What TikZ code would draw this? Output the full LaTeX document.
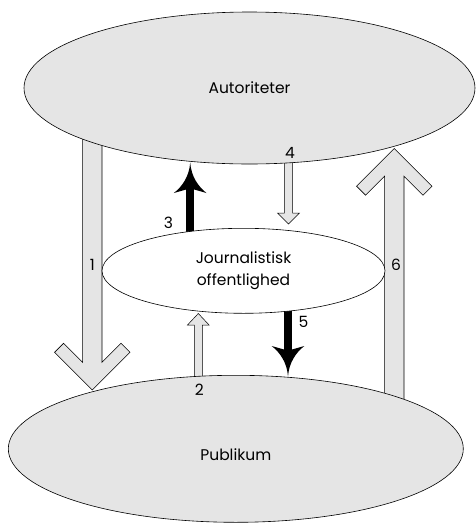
\documentclass[tikz,border=0pt]{standalone}
\usepackage{fontspec}
\setmainfont{Poppins}
\usetikzlibrary{shapes.geometric}
\definecolor{blobgray}{gray}{0.9}
\tikzset{
  sharphead/.pic={\fill (0,0) .. controls (1,14) and (8,24) .. (16.3,30.5) -- (4,27) -- (-4,27) -- (-16.3,30.5) .. controls (-8,24) and (-1,14) .. (0,0) -- cycle;}
}
\begin{document}
\begin{tikzpicture}[x=1pt,y=-1pt,
  grayblob/.style={ellipse, draw, line width=.6pt, fill=blobgray, inner sep=0pt, font=\fontsize{15.5}{21.7}\selectfont},
  whiteblob/.style={grayblob, fill=white, align=center},
  widearrow/.style={draw, line width=.6pt, fill=blobgray, line join=miter},
  thinarrow/.style={draw, line width=.5pt, fill=blobgray},
  blackshaft/.style={line width=8pt},
  numlabel/.style={inner sep=0pt, font=\fontsize{15.5}{18}\selectfont}]
\useasboundingbox (0,0) rectangle (475,523);

\coordinate (t1) at (92.3,390);
\coordinate (t6) at (394.3,148.5);
\coordinate (t4) at (288.5,224);
\coordinate (t2) at (198.3,313.5);
\coordinate (s3) at (190.2,236);
\coordinate (b3) at (190.2,188);
\coordinate (t3) at (190.2,162.5);
\coordinate (s5) at (288,305);
\coordinate (b5) at (288,350);
\coordinate (t5) at (288,376.5);

% wide arrows, tails tucked under the ellipses
\draw[widearrow] (t1) -- ++(-37.7,-37.7) -- ++(9,-9) -- ++(19,19) -- ++(0,-232.3) -- ++(19.4,0) -- ++(0,232.3) -- ++(19,-19) -- ++(9,9) -- cycle;
\draw[widearrow] (t6) -- ++(-37.7,37.7) -- ++(9,9) -- ++(19,-19) -- ++(0,228.8) -- ++(19.4,0) -- ++(0,-228.8) -- ++(19,19) -- ++(9,-9) -- cycle;

% thin arrows
\draw[thinarrow] (t4) -- ++(-11,-11) -- ++(6.8,0) -- ++(0,-55) -- ++(8.4,0) -- ++(0,55) -- ++(6.8,0) -- cycle;
\draw[thinarrow] (t2) -- ++(-10.8,11.5) -- ++(6.8,0) -- ++(0,57) -- ++(8,0) -- ++(0,-57) -- ++(6.8,0) -- cycle;

% black arrows
\draw[blackshaft] (s3) -- (b3);
\pic at (t3) {sharphead};
\draw[blackshaft] (s5) -- (b5);
\pic[rotate=180] at (t5) {sharphead};

\node[grayblob, minimum width=451pt, minimum height=152pt] (aut) at (249.5,88) {Autoriteter};
\node[whiteblob, minimum width=283pt, minimum height=85pt] (jo) at (243.5,270.8) {Journalistisk\\offentlighed};
\node[grayblob, minimum width=455pt, minimum height=147pt, text height=23pt] (pub) at (235.8,448.8) {Publikum};

\node[numlabel] (n1) at (92.3,265) {1};
\node[numlabel] (n2) at (199.3,389.5) {2};
\node[numlabel] (n3) at (168.5,222.5) {3};
\node[numlabel] (n4) at (290,153) {4};
\node[numlabel] (n5) at (303.5,322) {5};
\node[numlabel] (n6) at (396,265) {6};
\end{tikzpicture}
\end{document}
